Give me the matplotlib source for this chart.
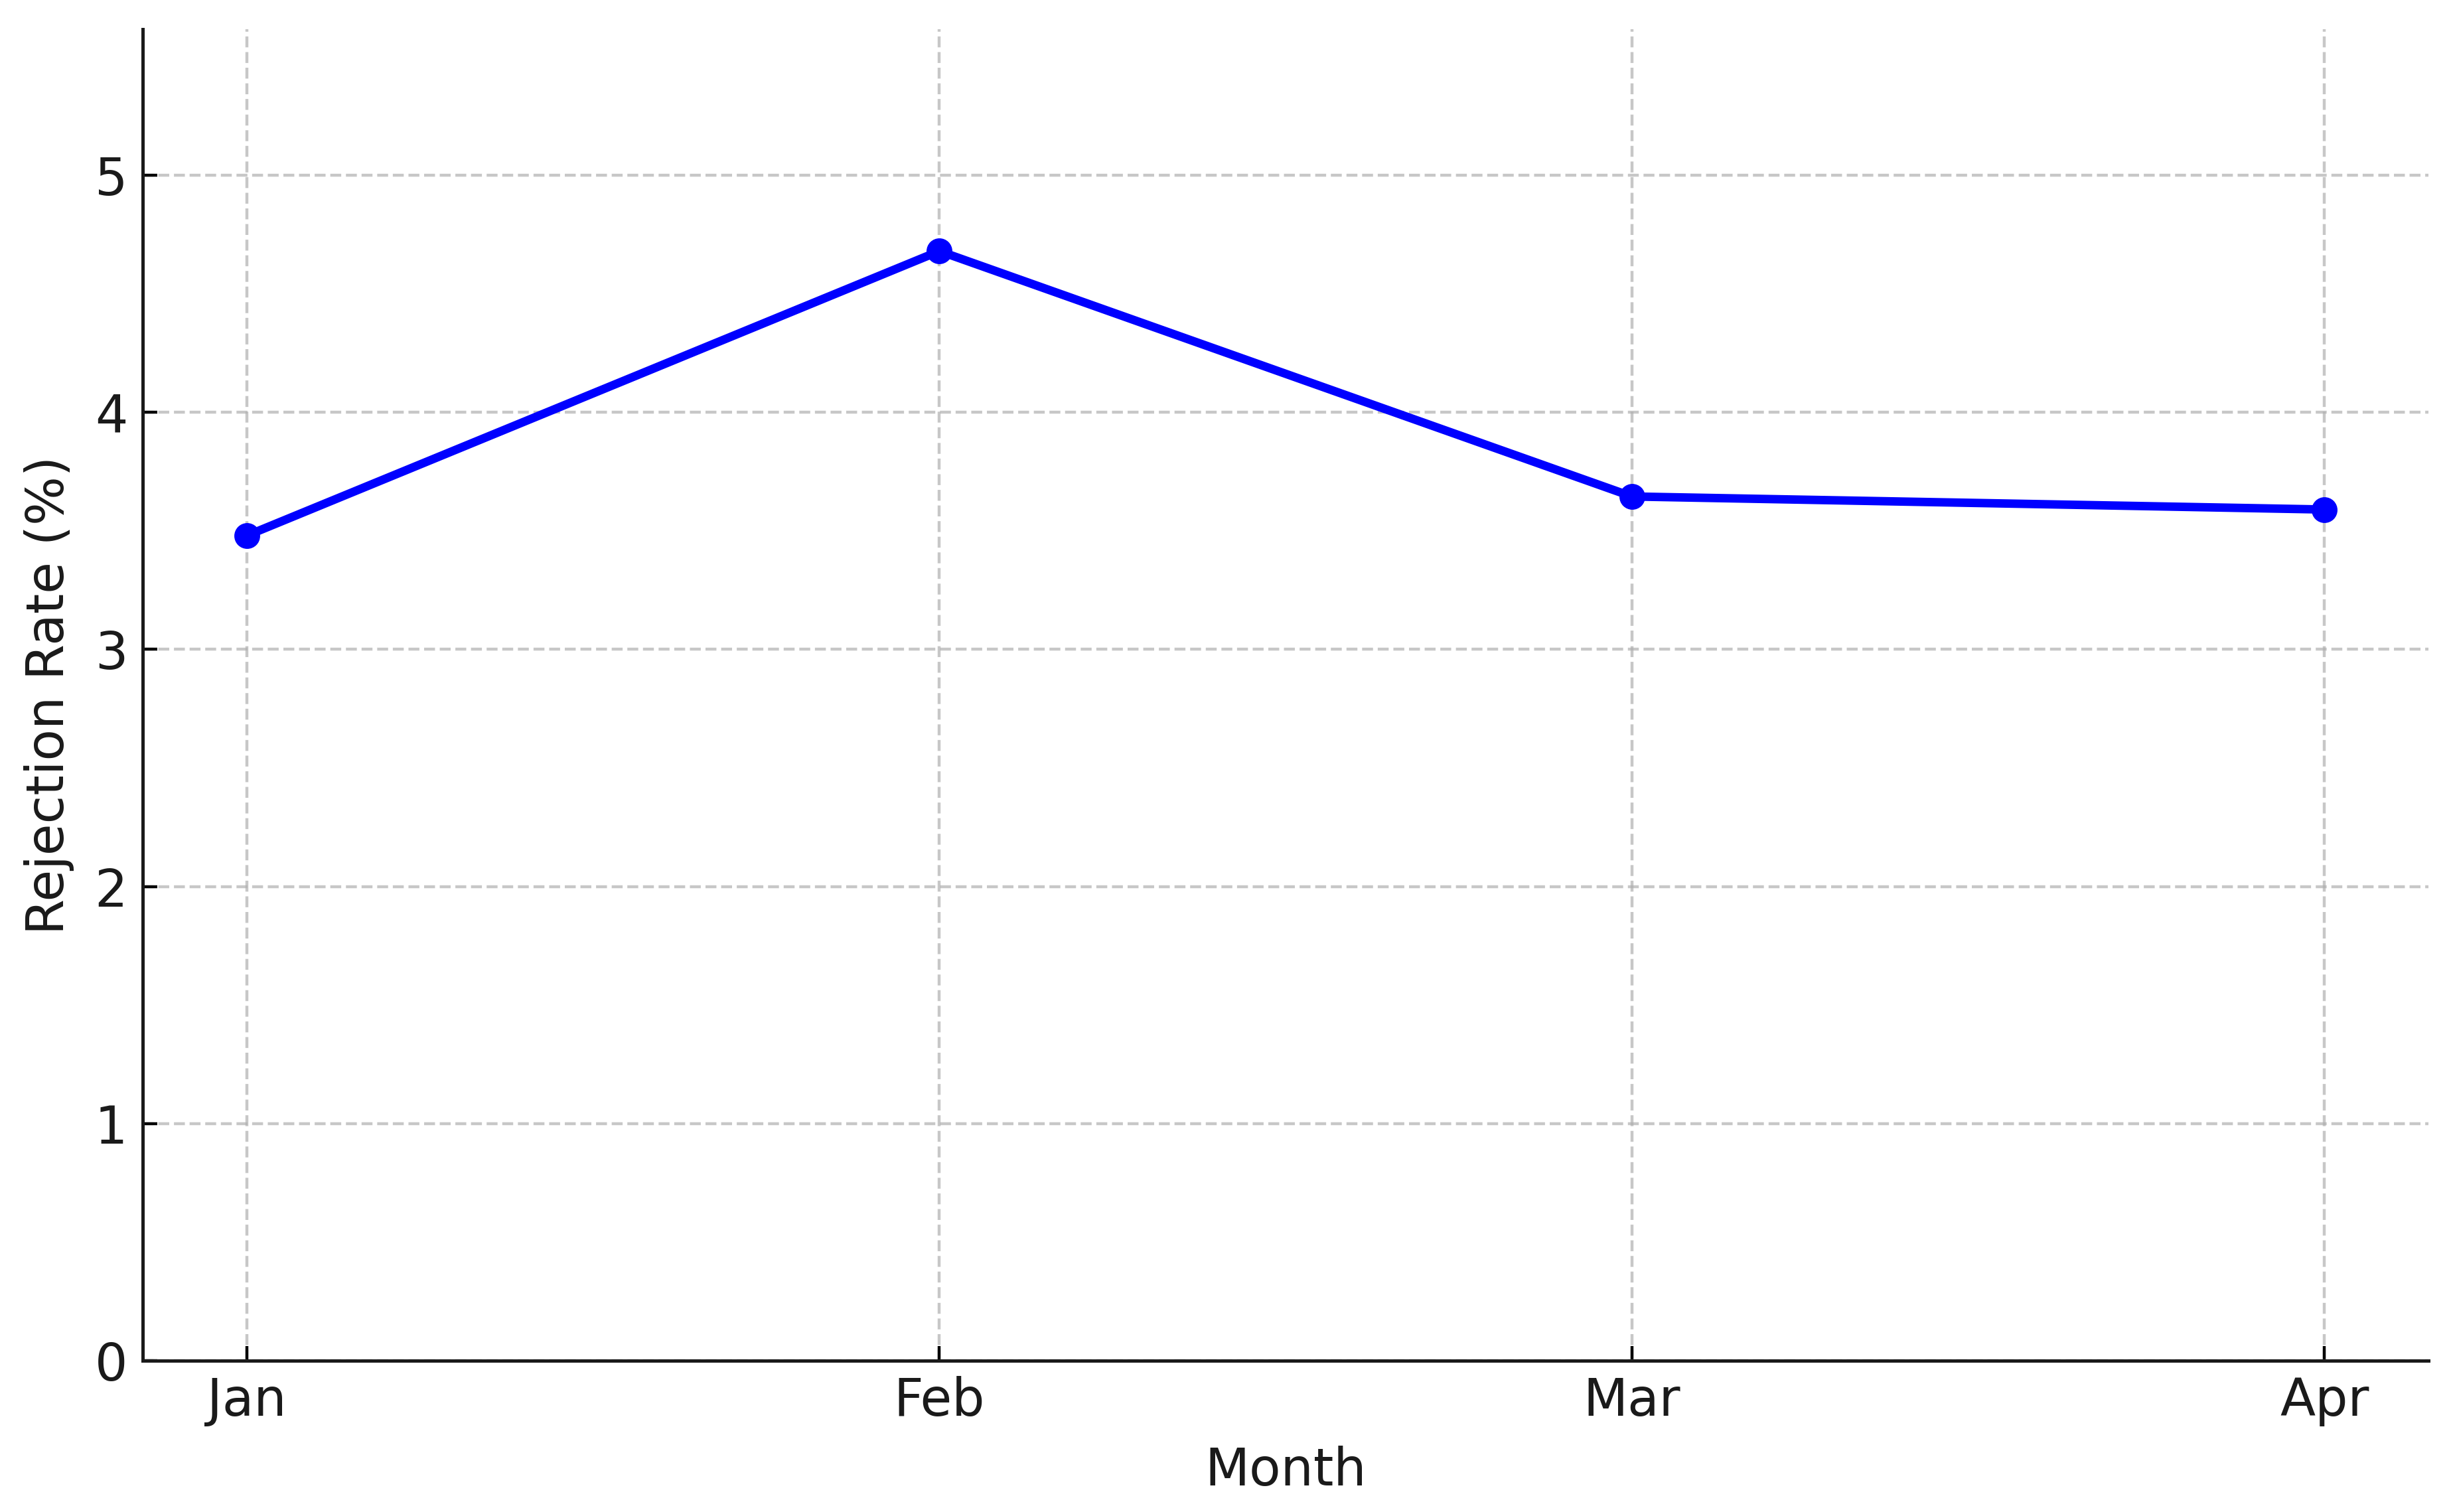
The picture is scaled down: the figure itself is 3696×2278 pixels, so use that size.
import matplotlib
matplotlib.use("Agg")
import matplotlib.pyplot as plt

months = ["Jan", "Feb", "Mar", "Apr"]
rejection_rate = [3.48, 4.68, 3.645, 3.59]
y_ticks = [0, 1, 2, 3, 4, 5]

plt.rcParams['font.family'] = ['DejaVu Sans']

fig = plt.figure(figsize=(9.24, 5.695), dpi=400)
ax = fig.add_axes([0.0583, 0.1001, 0.9316, 0.8806])

ax.plot(months, rejection_rate, marker='o', linestyle='-', color='blue',
        linewidth=2.3, markersize=6)

ax.set_ylim(0, max(rejection_rate) * 1.2)
ax.set_yticks(y_ticks)
ax.grid(True, linestyle='--', alpha=0.7)

ax.set_xlabel("Month", fontsize=14, color='#1a1a1a', labelpad=5.2)
ax.set_ylabel("Rejection Rate (%)", fontsize=14, color='#1a1a1a', labelpad=5.5)
ax.tick_params(axis='x', direction='in', labelsize=14, length=4,
               width=0.8, pad=4.2, labelcolor='#1a1a1a')
ax.tick_params(axis='y', direction='in', labelsize=14, length=4,
               width=0.8, pad=4.2, labelcolor='#1a1a1a')

for s in ['top', 'right']:
    ax.spines[s].set_visible(False)
for s in ['left', 'bottom']:
    ax.spines[s].set_linewidth(0.9)
    ax.spines[s].set_color('#1a1a1a')

fig.savefig("out.png", dpi=400)
